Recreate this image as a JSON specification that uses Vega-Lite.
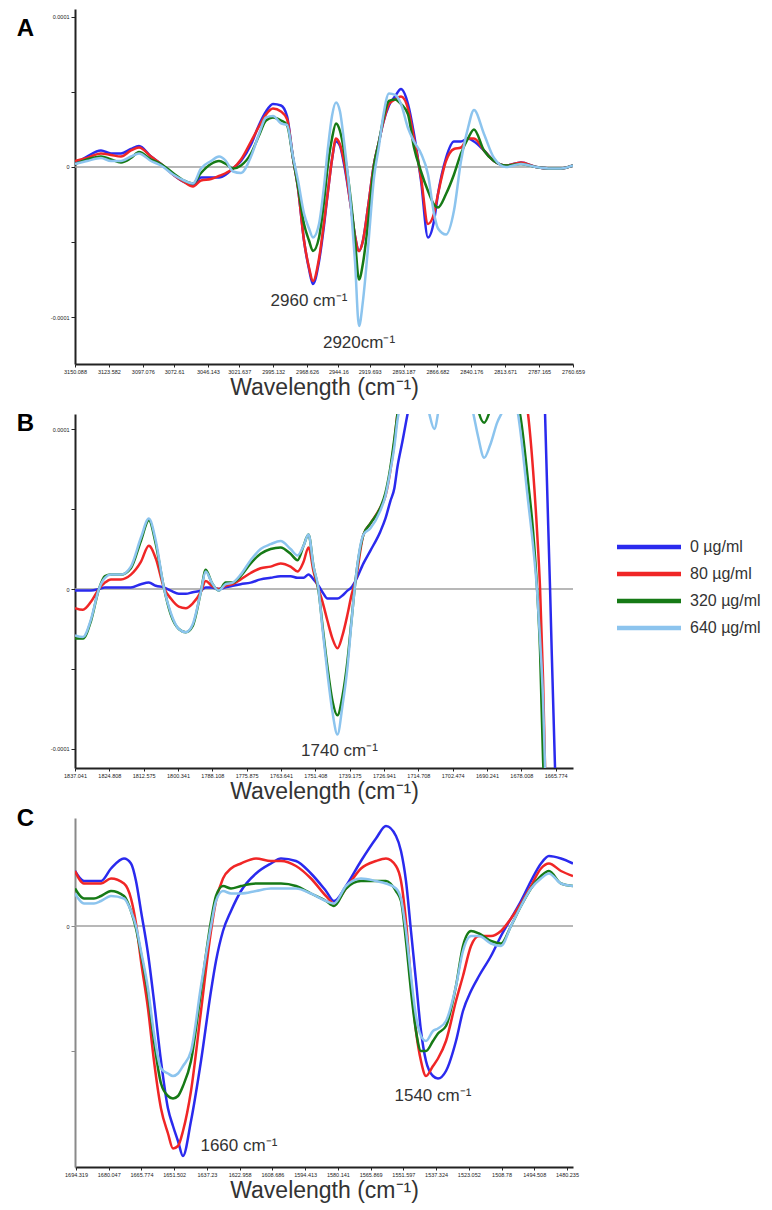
{
"$schema":"https://vega.github.io/schema/vega-lite/v6.json",
"background":"white",
"padding":{"left":16,"top":9,"right":0,"bottom":0},
"autosize":{"type":"pad"},
"bounds":"flush",
"spacing":50,
"config":{"view":{"stroke":null},"font":"Liberation Sans",
 "axisX":{"grid":false,"domainColor":"#222","domainWidth":2,"tickColor":"#222","tickSize":3,"labelFontSize":5.5,"labelColor":"#222","labelPadding":2,"labelFlush":false,"labelOverlap":false,"labelBound":false,"titleFontSize":23,"titleFontWeight":"normal","titleColor":"#333","titlePadding":2},
 "axisY":{"grid":false,"domainColor":"#222","domainWidth":2,"tickColor":"#222","tickSize":4,"labelFontSize":5.5,"labelColor":"#222","labelPadding":2,"labelOverlap":false,"titleAngle":0,"titleX":-50,"titleAlign":"center","titleBaseline":"middle","titleFontSize":24,"titleFontWeight":"bold","titleColor":"#000"}},
"resolve":{"scale":{"x":"independent","y":"independent","color":"shared"}},
"datasets":{
"A":[
{"x":3150.09,"s":0,"y":2e-6},{"x":3150.09,"s":80,"y":4e-6},{"x":3150.09,"s":320,"y":2e-6},{"x":3150.09,"s":640,"y":2e-6},
{"x":3140.7,"s":0,"y":7e-6},{"x":3140.7,"s":80,"y":6e-6},{"x":3140.7,"s":320,"y":5e-6},{"x":3140.7,"s":640,"y":4e-6},
{"x":3129.76,"s":0,"y":11e-6},{"x":3129.76,"s":80,"y":9e-6},{"x":3129.76,"s":320,"y":7e-6},{"x":3129.76,"s":640,"y":6e-6},
{"x":3121.94,"s":0,"y":9e-6},{"x":3121.94,"s":80,"y":8e-6},{"x":3121.94,"s":320,"y":5e-6},{"x":3121.94,"s":640,"y":4e-6},
{"x":3114.12,"s":0,"y":9e-6},{"x":3114.12,"s":80,"y":7e-6},{"x":3114.12,"s":320,"y":3e-6},{"x":3114.12,"s":640,"y":4e-6},
{"x":3106.3,"s":0,"y":12e-6},{"x":3106.3,"s":80,"y":11e-6},{"x":3106.3,"s":320,"y":6e-6},{"x":3106.3,"s":640,"y":7e-6},
{"x":3100.04,"s":0,"y":14e-6},{"x":3100.04,"s":80,"y":13e-6},{"x":3100.04,"s":320,"y":10e-6},{"x":3100.04,"s":640,"y":9e-6},
{"x":3090.66,"s":0,"y":7e-6},{"x":3090.66,"s":80,"y":7e-6},{"x":3090.66,"s":320,"y":5e-6},{"x":3090.66,"s":640,"y":4e-6},
{"x":3082.84,"s":0,"y":2e-6},{"x":3082.84,"s":80,"y":2e-6},{"x":3082.84,"s":320,"y":2e-6},{"x":3082.84,"s":640,"y":1e-6},
{"x":3073.45,"s":0,"y":-5e-6},{"x":3073.45,"s":80,"y":-5e-6},{"x":3073.45,"s":320,"y":-4e-6},{"x":3073.45,"s":640,"y":-5e-6},
{"x":3064.85,"s":0,"y":-10e-6},{"x":3064.85,"s":80,"y":-10e-6},{"x":3064.85,"s":320,"y":-9e-6},{"x":3064.85,"s":640,"y":-9e-6},
{"x":3057.81,"s":0,"y":-12e-6},{"x":3057.81,"s":80,"y":-13e-6},{"x":3057.81,"s":320,"y":-11e-6},{"x":3057.81,"s":640,"y":-11e-6},
{"x":3051.56,"s":0,"y":-7e-6},{"x":3051.56,"s":80,"y":-9e-6},{"x":3051.56,"s":320,"y":-4e-6},{"x":3051.56,"s":640,"y":-1e-6},
{"x":3043.74,"s":0,"y":-7e-6},{"x":3043.74,"s":80,"y":-8e-6},{"x":3043.74,"s":320,"y":2e-6},{"x":3043.74,"s":640,"y":4e-6},
{"x":3037.48,"s":0,"y":-7e-6},{"x":3037.48,"s":80,"y":-6e-6},{"x":3037.48,"s":320,"y":4e-6},{"x":3037.48,"s":640,"y":7e-6},
{"x":3032.01,"s":0,"y":-5e-6},{"x":3032.01,"s":80,"y":-4e-6},{"x":3032.01,"s":320,"y":2e-6},{"x":3032.01,"s":640,"y":4e-6},
{"x":3026.54,"s":0,"y":-1e-6},{"x":3026.54,"s":80,"y":-1e-6},{"x":3026.54,"s":320,"y":-1e-6},{"x":3026.54,"s":640,"y":-3e-6},
{"x":3020.28,"s":0,"y":4e-6},{"x":3020.28,"s":80,"y":5e-6},{"x":3020.28,"s":320,"y":1e-6},{"x":3020.28,"s":640,"y":-4e-6},
{"x":3012.46,"s":0,"y":15e-6},{"x":3012.46,"s":80,"y":17e-6},{"x":3012.46,"s":320,"y":9e-6},{"x":3012.46,"s":640,"y":7e-6},
{"x":3006.2,"s":0,"y":28e-6},{"x":3006.2,"s":80,"y":27e-6},{"x":3006.2,"s":320,"y":21e-6},{"x":3006.2,"s":640,"y":22e-6},
{"x":3000.73,"s":0,"y":37e-6},{"x":3000.73,"s":80,"y":35e-6},{"x":3000.73,"s":320,"y":31e-6},{"x":3000.73,"s":640,"y":33e-6},
{"x":2995.26,"s":0,"y":42e-6},{"x":2995.26,"s":80,"y":39e-6},{"x":2995.26,"s":320,"y":33e-6},{"x":2995.26,"s":640,"y":34e-6},
{"x":2989.0,"s":0,"y":41e-6},{"x":2989.0,"s":80,"y":37e-6},{"x":2989.0,"s":320,"y":31e-6},{"x":2989.0,"s":640,"y":29e-6},
{"x":2984.31,"s":0,"y":34e-6},{"x":2984.31,"s":80,"y":32e-6},{"x":2984.31,"s":320,"y":28e-6},{"x":2984.31,"s":640,"y":28e-6},
{"x":2979.62,"s":0,"y":6e-6},{"x":2979.62,"s":80,"y":6e-6},{"x":2979.62,"s":320,"y":6e-6},{"x":2979.62,"s":640,"y":7e-6},
{"x":2975.71,"s":0,"y":-14e-6},{"x":2975.71,"s":80,"y":-14e-6},{"x":2975.71,"s":320,"y":-13e-6},{"x":2975.71,"s":640,"y":-9e-6},
{"x":2971.01,"s":0,"y":-49e-6},{"x":2971.01,"s":80,"y":-49e-6},{"x":2971.01,"s":320,"y":-38e-6},{"x":2971.01,"s":640,"y":-31e-6},
{"x":2967.1,"s":0,"y":-68e-6},{"x":2967.1,"s":80,"y":-67e-6},{"x":2967.1,"s":320,"y":-49e-6},{"x":2967.1,"s":640,"y":-41e-6},
{"x":2963.98,"s":0,"y":-78e-6},{"x":2963.98,"s":80,"y":-76e-6},{"x":2963.98,"s":320,"y":-56e-6},{"x":2963.98,"s":640,"y":-47e-6},
{"x":2959.28,"s":0,"y":-63e-6},{"x":2959.28,"s":80,"y":-61e-6},{"x":2959.28,"s":320,"y":-47e-6},{"x":2959.28,"s":640,"y":-38e-6},
{"x":2955.37,"s":0,"y":-39e-6},{"x":2955.37,"s":80,"y":-37e-6},{"x":2955.37,"s":320,"y":-23e-6},{"x":2955.37,"s":640,"y":-13e-6},
{"x":2952.25,"s":0,"y":-16e-6},{"x":2952.25,"s":80,"y":-16e-6},{"x":2952.25,"s":320,"y":2e-6},{"x":2952.25,"s":640,"y":13e-6},
{"x":2949.12,"s":0,"y":5e-6},{"x":2949.12,"s":80,"y":5e-6},{"x":2949.12,"s":320,"y":19e-6},{"x":2949.12,"s":640,"y":34e-6},
{"x":2945.99,"s":0,"y":17e-6},{"x":2945.99,"s":80,"y":19e-6},{"x":2945.99,"s":320,"y":29e-6},{"x":2945.99,"s":640,"y":43e-6},
{"x":2942.86,"s":0,"y":14e-6},{"x":2942.86,"s":80,"y":15e-6},{"x":2942.86,"s":320,"y":24e-6},{"x":2942.86,"s":640,"y":37e-6},
{"x":2939.73,"s":0,"y":2e-6},{"x":2939.73,"s":80,"y":4e-6},{"x":2939.73,"s":320,"y":11e-6},{"x":2939.73,"s":640,"y":17e-6},
{"x":2934.26,"s":0,"y":-27e-6},{"x":2934.26,"s":80,"y":-27e-6},{"x":2934.26,"s":320,"y":-23e-6},{"x":2934.26,"s":640,"y":-27e-6},
{"x":2931.13,"s":0,"y":-46e-6},{"x":2931.13,"s":80,"y":-46e-6},{"x":2931.13,"s":320,"y":-49e-6},{"x":2931.13,"s":640,"y":-63e-6},
{"x":2928.0,"s":0,"y":-56e-6},{"x":2928.0,"s":80,"y":-56e-6},{"x":2928.0,"s":320,"y":-75e-6},{"x":2928.0,"s":640,"y":-106e-6},
{"x":2924.88,"s":0,"y":-49e-6},{"x":2924.88,"s":80,"y":-49e-6},{"x":2924.88,"s":320,"y":-64e-6},{"x":2924.88,"s":640,"y":-89e-6},
{"x":2920.97,"s":0,"y":-27e-6},{"x":2920.97,"s":80,"y":-27e-6},{"x":2920.97,"s":320,"y":-38e-6},{"x":2920.97,"s":640,"y":-54e-6},
{"x":2916.27,"s":0,"y":2e-6},{"x":2916.27,"s":80,"y":2e-6},{"x":2916.27,"s":320,"y":1e-6},{"x":2916.27,"s":640,"y":-7e-6},
{"x":2912.37,"s":0,"y":17e-6},{"x":2912.37,"s":80,"y":17e-6},{"x":2912.37,"s":320,"y":17e-6},{"x":2912.37,"s":640,"y":14e-6},
{"x":2909.24,"s":0,"y":29e-6},{"x":2909.24,"s":80,"y":29e-6},{"x":2909.24,"s":320,"y":31e-6},{"x":2909.24,"s":640,"y":33e-6},
{"x":2904.55,"s":0,"y":41e-6},{"x":2904.55,"s":80,"y":42e-6},{"x":2904.55,"s":320,"y":44e-6},{"x":2904.55,"s":640,"y":49e-6},
{"x":2899.85,"s":0,"y":47e-6},{"x":2899.85,"s":80,"y":45e-6},{"x":2899.85,"s":320,"y":45e-6},{"x":2899.85,"s":640,"y":48e-6},
{"x":2895.16,"s":0,"y":52e-6},{"x":2895.16,"s":80,"y":47e-6},{"x":2895.16,"s":320,"y":42e-6},{"x":2895.16,"s":640,"y":42e-6},
{"x":2889.69,"s":0,"y":42e-6},{"x":2889.69,"s":80,"y":39e-6},{"x":2889.69,"s":320,"y":35e-6},{"x":2889.69,"s":640,"y":26e-6},
{"x":2885.0,"s":0,"y":22e-6},{"x":2885.0,"s":80,"y":19e-6},{"x":2885.0,"s":320,"y":13e-6},{"x":2885.0,"s":640,"y":17e-6},
{"x":2879.52,"s":0,"y":-9e-6},{"x":2879.52,"s":80,"y":-7e-6},{"x":2879.52,"s":320,"y":-3e-6},{"x":2879.52,"s":640,"y":9e-6},
{"x":2874.05,"s":0,"y":-47e-6},{"x":2874.05,"s":80,"y":-38e-6},{"x":2874.05,"s":320,"y":-16e-6},{"x":2874.05,"s":640,"y":-5e-6},
{"x":2869.36,"s":0,"y":-36e-6},{"x":2869.36,"s":80,"y":-31e-6},{"x":2869.36,"s":320,"y":-25e-6},{"x":2869.36,"s":640,"y":-31e-6},
{"x":2866.23,"s":0,"y":-18e-6},{"x":2866.23,"s":80,"y":-18e-6},{"x":2866.23,"s":320,"y":-27e-6},{"x":2866.23,"s":640,"y":-41e-6},
{"x":2859.97,"s":0,"y":6e-6},{"x":2859.97,"s":80,"y":4e-6},{"x":2859.97,"s":320,"y":-18e-6},{"x":2859.97,"s":640,"y":-45e-6},
{"x":2853.72,"s":0,"y":17e-6},{"x":2853.72,"s":80,"y":12e-6},{"x":2853.72,"s":320,"y":-5e-6},{"x":2853.72,"s":640,"y":-29e-6},
{"x":2848.24,"s":0,"y":17e-6},{"x":2848.24,"s":80,"y":13e-6},{"x":2848.24,"s":320,"y":9e-6},{"x":2848.24,"s":640,"y":4e-6},
{"x":2842.77,"s":0,"y":19e-6},{"x":2842.77,"s":80,"y":19e-6},{"x":2842.77,"s":320,"y":19e-6},{"x":2842.77,"s":640,"y":26e-6},
{"x":2838.08,"s":0,"y":17e-6},{"x":2838.08,"s":80,"y":19e-6},{"x":2838.08,"s":320,"y":25e-6},{"x":2838.08,"s":640,"y":38e-6},
{"x":2830.26,"s":0,"y":11e-6},{"x":2830.26,"s":80,"y":11e-6},{"x":2830.26,"s":320,"y":11e-6},{"x":2830.26,"s":640,"y":22e-6},
{"x":2822.44,"s":0,"y":4e-6},{"x":2822.44,"s":80,"y":4e-6},{"x":2822.44,"s":320,"y":4e-6},{"x":2822.44,"s":640,"y":6e-6},
{"x":2813.05,"s":0,"y":1e-6},{"x":2813.05,"s":80,"y":1e-6},{"x":2813.05,"s":320,"y":1e-6},{"x":2813.05,"s":640,"y":0},
{"x":2801.32,"s":0,"y":3e-6},{"x":2801.32,"s":80,"y":3e-6},{"x":2801.32,"s":320,"y":2e-6},{"x":2801.32,"s":640,"y":2e-6},
{"x":2789.59,"s":0,"y":0},{"x":2789.59,"s":80,"y":0},{"x":2789.59,"s":320,"y":0},{"x":2789.59,"s":640,"y":0},
{"x":2777.86,"s":0,"y":-1e-6},{"x":2777.86,"s":80,"y":-1e-6},{"x":2777.86,"s":320,"y":-1e-6},{"x":2777.86,"s":640,"y":-1e-6},
{"x":2770.04,"s":0,"y":-1e-6},{"x":2770.04,"s":80,"y":-1e-6},{"x":2770.04,"s":320,"y":-1e-6},{"x":2770.04,"s":640,"y":-1e-6},
{"x":2760.66,"s":0,"y":1e-6},{"x":2760.66,"s":80,"y":1e-6},{"x":2760.66,"s":320,"y":1e-6},{"x":2760.66,"s":640,"y":1e-6}
],
"B":[
{"x":1837.04,"s":0,"y":-1e-6},{"x":1837.04,"s":80,"y":-12e-6},{"x":1837.04,"s":320,"y":-31e-6},{"x":1837.04,"s":640,"y":-29e-6},
{"x":1834.2,"s":0,"y":-1e-6},{"x":1834.2,"s":80,"y":-13e-6},{"x":1834.2,"s":320,"y":-31e-6},{"x":1834.2,"s":640,"y":-30e-6},
{"x":1831.35,"s":0,"y":-1e-6},{"x":1831.35,"s":80,"y":-8e-6},{"x":1831.35,"s":320,"y":-20e-6},{"x":1831.35,"s":640,"y":-19e-6},
{"x":1828.51,"s":0,"y":0},{"x":1828.51,"s":80,"y":0},{"x":1828.51,"s":320,"y":0},{"x":1828.51,"s":640,"y":0},
{"x":1826.37,"s":0,"y":1e-6},{"x":1826.37,"s":80,"y":4e-6},{"x":1826.37,"s":320,"y":8e-6},{"x":1826.37,"s":640,"y":7e-6},
{"x":1824.24,"s":0,"y":1e-6},{"x":1824.24,"s":80,"y":6e-6},{"x":1824.24,"s":320,"y":9e-6},{"x":1824.24,"s":640,"y":9e-6},
{"x":1820.68,"s":0,"y":1e-6},{"x":1820.68,"s":80,"y":6e-6},{"x":1820.68,"s":320,"y":9e-6},{"x":1820.68,"s":640,"y":9e-6},
{"x":1817.13,"s":0,"y":1e-6},{"x":1817.13,"s":80,"y":9e-6},{"x":1817.13,"s":320,"y":13e-6},{"x":1817.13,"s":640,"y":14e-6},
{"x":1813.57,"s":0,"y":3e-6},{"x":1813.57,"s":80,"y":17e-6},{"x":1813.57,"s":320,"y":30e-6},{"x":1813.57,"s":640,"y":32e-6},
{"x":1810.73,"s":0,"y":4e-6},{"x":1810.73,"s":80,"y":27e-6},{"x":1810.73,"s":320,"y":43e-6},{"x":1810.73,"s":640,"y":44e-6},
{"x":1808.24,"s":0,"y":2e-6},{"x":1808.24,"s":80,"y":19e-6},{"x":1808.24,"s":320,"y":28e-6},{"x":1808.24,"s":640,"y":30e-6},
{"x":1805.39,"s":0,"y":1e-6},{"x":1805.39,"s":80,"y":1e-6},{"x":1805.39,"s":320,"y":1e-6},{"x":1805.39,"s":640,"y":1e-6},
{"x":1802.9,"s":0,"y":-1e-6},{"x":1802.9,"s":80,"y":-6e-6},{"x":1802.9,"s":320,"y":-16e-6},{"x":1802.9,"s":640,"y":-15e-6},
{"x":1800.06,"s":0,"y":-3e-6},{"x":1800.06,"s":80,"y":-11e-6},{"x":1800.06,"s":320,"y":-25e-6},{"x":1800.06,"s":640,"y":-25e-6},
{"x":1797.57,"s":0,"y":-3e-6},{"x":1797.57,"s":80,"y":-12e-6},{"x":1797.57,"s":320,"y":-27e-6},{"x":1797.57,"s":640,"y":-27e-6},
{"x":1795.08,"s":0,"y":-2e-6},{"x":1795.08,"s":80,"y":-9e-6},{"x":1795.08,"s":320,"y":-23e-6},{"x":1795.08,"s":640,"y":-22e-6},
{"x":1792.23,"s":0,"y":-1e-6},{"x":1792.23,"s":80,"y":-2e-6},{"x":1792.23,"s":320,"y":-2e-6},{"x":1792.23,"s":640,"y":-2e-6},
{"x":1790.46,"s":0,"y":1e-6},{"x":1790.46,"s":80,"y":5e-6},{"x":1790.46,"s":320,"y":12e-6},{"x":1790.46,"s":640,"y":11e-6},
{"x":1788.32,"s":0,"y":1e-6},{"x":1788.32,"s":80,"y":2e-6},{"x":1788.32,"s":320,"y":4e-6},{"x":1788.32,"s":640,"y":4e-6},
{"x":1785.83,"s":0,"y":0},{"x":1785.83,"s":80,"y":0},{"x":1785.83,"s":320,"y":-1e-6},{"x":1785.83,"s":640,"y":-1e-6},
{"x":1783.34,"s":0,"y":1e-6},{"x":1783.34,"s":80,"y":2e-6},{"x":1783.34,"s":320,"y":4e-6},{"x":1783.34,"s":640,"y":3e-6},
{"x":1780.86,"s":0,"y":2e-6},{"x":1780.86,"s":80,"y":3e-6},{"x":1780.86,"s":320,"y":4e-6},{"x":1780.86,"s":640,"y":4e-6},
{"x":1778.01,"s":0,"y":3e-6},{"x":1778.01,"s":80,"y":6e-6},{"x":1778.01,"s":320,"y":8e-6},{"x":1778.01,"s":640,"y":9e-6},
{"x":1774.45,"s":0,"y":4e-6},{"x":1774.45,"s":80,"y":10e-6},{"x":1774.45,"s":320,"y":16e-6},{"x":1774.45,"s":640,"y":18e-6},
{"x":1770.9,"s":0,"y":6e-6},{"x":1770.9,"s":80,"y":13e-6},{"x":1770.9,"s":320,"y":22e-6},{"x":1770.9,"s":640,"y":25e-6},
{"x":1767.34,"s":0,"y":7e-6},{"x":1767.34,"s":80,"y":14e-6},{"x":1767.34,"s":320,"y":25e-6},{"x":1767.34,"s":640,"y":28e-6},
{"x":1763.79,"s":0,"y":8e-6},{"x":1763.79,"s":80,"y":16e-6},{"x":1763.79,"s":320,"y":26e-6},{"x":1763.79,"s":640,"y":30e-6},
{"x":1760.23,"s":0,"y":8e-6},{"x":1760.23,"s":80,"y":14e-6},{"x":1760.23,"s":320,"y":22e-6},{"x":1760.23,"s":640,"y":25e-6},
{"x":1757.74,"s":0,"y":7e-6},{"x":1757.74,"s":80,"y":11e-6},{"x":1757.74,"s":320,"y":18e-6},{"x":1757.74,"s":640,"y":21e-6},
{"x":1755.61,"s":0,"y":7e-6},{"x":1755.61,"s":80,"y":17e-6},{"x":1755.61,"s":320,"y":27e-6},{"x":1755.61,"s":640,"y":27e-6},
{"x":1753.83,"s":0,"y":9e-6},{"x":1753.83,"s":80,"y":26e-6},{"x":1753.83,"s":320,"y":34e-6},{"x":1753.83,"s":640,"y":34e-6},
{"x":1752.05,"s":0,"y":6e-6},{"x":1752.05,"s":80,"y":11e-6},{"x":1752.05,"s":320,"y":14e-6},{"x":1752.05,"s":640,"y":14e-6},
{"x":1750.27,"s":0,"y":2e-6},{"x":1750.27,"s":80,"y":0},{"x":1750.27,"s":320,"y":-1e-6},{"x":1750.27,"s":640,"y":0},
{"x":1748.85,"s":0,"y":-2e-6},{"x":1748.85,"s":80,"y":-8e-6},{"x":1748.85,"s":320,"y":-23e-6},{"x":1748.85,"s":640,"y":-25e-6},
{"x":1747.07,"s":0,"y":-6e-6},{"x":1747.07,"s":80,"y":-20e-6},{"x":1747.07,"s":320,"y":-49e-6},{"x":1747.07,"s":640,"y":-53e-6},
{"x":1745.3,"s":0,"y":-6e-6},{"x":1745.3,"s":80,"y":-31e-6},{"x":1745.3,"s":320,"y":-70e-6},{"x":1745.3,"s":640,"y":-77e-6},
{"x":1743.52,"s":0,"y":-6e-6},{"x":1743.52,"s":80,"y":-37e-6},{"x":1743.52,"s":320,"y":-79e-6},{"x":1743.52,"s":640,"y":-91e-6},
{"x":1741.74,"s":0,"y":-4e-6},{"x":1741.74,"s":80,"y":-29e-6},{"x":1741.74,"s":320,"y":-67e-6},{"x":1741.74,"s":640,"y":-73e-6},
{"x":1739.96,"s":0,"y":-1e-6},{"x":1739.96,"s":80,"y":-16e-6},{"x":1739.96,"s":320,"y":-45e-6},{"x":1739.96,"s":640,"y":-49e-6},
{"x":1738.54,"s":0,"y":1e-6},{"x":1738.54,"s":80,"y":-4e-6},{"x":1738.54,"s":320,"y":-20e-6},{"x":1738.54,"s":640,"y":-21e-6},
{"x":1737.12,"s":0,"y":5e-6},{"x":1737.12,"s":80,"y":5e-6},{"x":1737.12,"s":320,"y":5e-6},{"x":1737.12,"s":640,"y":5e-6},
{"x":1734.27,"s":0,"y":16e-6},{"x":1734.27,"s":80,"y":34e-6},{"x":1734.27,"s":320,"y":34e-6},{"x":1734.27,"s":640,"y":34e-6},
{"x":1731.78,"s":0,"y":24e-6},{"x":1731.78,"s":80,"y":41e-6},{"x":1731.78,"s":320,"y":41e-6},{"x":1731.78,"s":640,"y":38e-6},
{"x":1728.23,"s":0,"y":36e-6},{"x":1728.23,"s":80,"y":51e-6},{"x":1728.23,"s":320,"y":51e-6},{"x":1728.23,"s":640,"y":49e-6},
{"x":1726.45,"s":0,"y":44e-6},{"x":1726.45,"s":80,"y":58e-6},{"x":1726.45,"s":320,"y":60e-6},{"x":1726.45,"s":640,"y":58e-6},
{"x":1724.67,"s":0,"y":55e-6},{"x":1724.67,"s":80,"y":74e-6},{"x":1724.67,"s":320,"y":76e-6},{"x":1724.67,"s":640,"y":74e-6},
{"x":1723.25,"s":0,"y":63e-6},{"x":1723.25,"s":80,"y":92e-6},{"x":1723.25,"s":320,"y":94e-6},{"x":1723.25,"s":640,"y":89e-6},
{"x":1722.18,"s":0,"y":76e-6},{"x":1722.18,"s":80,"y":109e-6},{"x":1722.18,"s":320,"y":109e-6},{"x":1722.18,"s":640,"y":105e-6},
{"x":1720.4,"s":0,"y":92e-6},{"x":1720.4,"s":80,"y":130e-6},{"x":1720.4,"s":320,"y":135e-6},{"x":1720.4,"s":640,"y":120e-6},
{"x":1717.56,"s":0,"y":118e-6},{"x":1717.56,"s":80,"y":150e-6},{"x":1717.56,"s":320,"y":155e-6},{"x":1717.56,"s":640,"y":140e-6},
{"x":1714.0,"s":0,"y":140e-6},{"x":1714.0,"s":80,"y":160e-6},{"x":1714.0,"s":320,"y":165e-6},{"x":1714.0,"s":640,"y":130e-6},
{"x":1711.16,"s":0,"y":150e-6},{"x":1711.16,"s":80,"y":165e-6},{"x":1711.16,"s":320,"y":165e-6},{"x":1711.16,"s":640,"y":112e-6},
{"x":1709.02,"s":0,"y":155e-6},{"x":1709.02,"s":80,"y":165e-6},{"x":1709.02,"s":320,"y":165e-6},{"x":1709.02,"s":640,"y":100e-6},
{"x":1706.89,"s":0,"y":158e-6},{"x":1706.89,"s":80,"y":165e-6},{"x":1706.89,"s":320,"y":165e-6},{"x":1706.89,"s":640,"y":118e-6},
{"x":1703.33,"s":0,"y":160e-6},{"x":1703.33,"s":80,"y":165e-6},{"x":1703.33,"s":320,"y":165e-6},{"x":1703.33,"s":640,"y":135e-6},
{"x":1698.0,"s":0,"y":160e-6},{"x":1698.0,"s":80,"y":160e-6},{"x":1698.0,"s":320,"y":150e-6},{"x":1698.0,"s":640,"y":130e-6},
{"x":1695.16,"s":0,"y":160e-6},{"x":1695.16,"s":80,"y":160e-6},{"x":1695.16,"s":320,"y":130e-6},{"x":1695.16,"s":640,"y":110e-6},
{"x":1693.38,"s":0,"y":160e-6},{"x":1693.38,"s":80,"y":160e-6},{"x":1693.38,"s":320,"y":112e-6},{"x":1693.38,"s":640,"y":95e-6},
{"x":1691.24,"s":0,"y":160e-6},{"x":1691.24,"s":80,"y":160e-6},{"x":1691.24,"s":320,"y":104e-6},{"x":1691.24,"s":640,"y":82e-6},
{"x":1689.11,"s":0,"y":160e-6},{"x":1689.11,"s":80,"y":160e-6},{"x":1689.11,"s":320,"y":112e-6},{"x":1689.11,"s":640,"y":90e-6},
{"x":1686.62,"s":0,"y":160e-6},{"x":1686.62,"s":80,"y":160e-6},{"x":1686.62,"s":320,"y":130e-6},{"x":1686.62,"s":640,"y":104e-6},
{"x":1684.49,"s":0,"y":160e-6},{"x":1684.49,"s":80,"y":160e-6},{"x":1684.49,"s":320,"y":140e-6},{"x":1684.49,"s":640,"y":112e-6},
{"x":1682.0,"s":0,"y":160e-6},{"x":1682.0,"s":80,"y":155e-6},{"x":1682.0,"s":320,"y":130e-6},{"x":1682.0,"s":640,"y":125e-6},
{"x":1679.15,"s":0,"y":160e-6},{"x":1679.15,"s":80,"y":140e-6},{"x":1679.15,"s":320,"y":115e-6},{"x":1679.15,"s":640,"y":109e-6},
{"x":1678.44,"s":0,"y":160e-6},{"x":1678.44,"s":80,"y":130e-6},{"x":1678.44,"s":320,"y":109e-6},{"x":1678.44,"s":640,"y":100e-6},
{"x":1675.6,"s":0,"y":160e-6},{"x":1675.6,"s":80,"y":109e-6},{"x":1675.6,"s":320,"y":67e-6},{"x":1675.6,"s":640,"y":55e-6},
{"x":1673.82,"s":0,"y":160e-6},{"x":1673.82,"s":80,"y":74e-6},{"x":1673.82,"s":320,"y":36e-6},{"x":1673.82,"s":640,"y":27e-6},
{"x":1672.4,"s":0,"y":160e-6},{"x":1672.4,"s":80,"y":36e-6},{"x":1672.4,"s":320,"y":0},{"x":1672.4,"s":640,"y":-1e-6},
{"x":1671.33,"s":0,"y":160e-6},{"x":1671.33,"s":80,"y":0},{"x":1671.33,"s":320,"y":-39e-6},{"x":1671.33,"s":640,"y":-32e-6},
{"x":1670.26,"s":0,"y":160e-6},{"x":1670.26,"s":80,"y":-57e-6},{"x":1670.26,"s":320,"y":-107e-6},{"x":1670.26,"s":640,"y":-70e-6},
{"x":1669.55,"s":0,"y":109e-6},{"x":1669.55,"s":80,"y":-112e-6},{"x":1669.55,"s":320,"y":-132e-6},{"x":1669.55,"s":640,"y":-112e-6},
{"x":1667.77,"s":0,"y":0},{"x":1667.77,"s":80,"y":-170e-6},{"x":1667.77,"s":320,"y":-180e-6},{"x":1667.77,"s":640,"y":-160e-6},
{"x":1666.0,"s":0,"y":-112e-6},{"x":1666.0,"s":80,"y":-210e-6},{"x":1666.0,"s":320,"y":-220e-6},{"x":1666.0,"s":640,"y":-200e-6},
{"x":1663.51,"s":0,"y":-180e-6},{"x":1663.51,"s":80,"y":-240e-6},{"x":1663.51,"s":320,"y":-250e-6},{"x":1663.51,"s":640,"y":-240e-6},
{"x":1659.6,"s":0,"y":-240e-6},{"x":1659.6,"s":80,"y":-280e-6},{"x":1659.6,"s":320,"y":-290e-6},{"x":1659.6,"s":640,"y":-280e-6}
],
"C":[
{"x":1694.76,"s":0,"y":22e-6},{"x":1694.76,"s":80,"y":22e-6},{"x":1694.76,"s":320,"y":15e-6},{"x":1694.76,"s":640,"y":13e-6},
{"x":1690.83,"s":0,"y":18e-6},{"x":1690.83,"s":80,"y":17e-6},{"x":1690.83,"s":320,"y":11e-6},{"x":1690.83,"s":640,"y":9e-6},
{"x":1686.47,"s":0,"y":18e-6},{"x":1686.47,"s":80,"y":17e-6},{"x":1686.47,"s":320,"y":11e-6},{"x":1686.47,"s":640,"y":9e-6},
{"x":1683.42,"s":0,"y":18e-6},{"x":1683.42,"s":80,"y":17e-6},{"x":1683.42,"s":320,"y":12e-6},{"x":1683.42,"s":640,"y":10e-6},
{"x":1679.06,"s":0,"y":23e-6},{"x":1679.06,"s":80,"y":19e-6},{"x":1679.06,"s":320,"y":14e-6},{"x":1679.06,"s":640,"y":12e-6},
{"x":1673.39,"s":0,"y":27e-6},{"x":1673.39,"s":80,"y":17e-6},{"x":1673.39,"s":320,"y":12e-6},{"x":1673.39,"s":640,"y":11e-6},
{"x":1670.34,"s":0,"y":25e-6},{"x":1670.34,"s":80,"y":11e-6},{"x":1670.34,"s":320,"y":6e-6},{"x":1670.34,"s":640,"y":6e-6},
{"x":1668.16,"s":0,"y":18e-6},{"x":1668.16,"s":80,"y":1e-6},{"x":1668.16,"s":320,"y":-1e-6},{"x":1668.16,"s":640,"y":0},
{"x":1665.98,"s":0,"y":6e-6},{"x":1665.98,"s":80,"y":-14e-6},{"x":1665.98,"s":320,"y":-11e-6},{"x":1665.98,"s":640,"y":-10e-6},
{"x":1662.93,"s":0,"y":-11e-6},{"x":1662.93,"s":80,"y":-33e-6},{"x":1662.93,"s":320,"y":-27e-6},{"x":1662.93,"s":640,"y":-25e-6},
{"x":1660.31,"s":0,"y":-30e-6},{"x":1660.31,"s":80,"y":-54e-6},{"x":1660.31,"s":320,"y":-46e-6},{"x":1660.31,"s":640,"y":-43e-6},
{"x":1657.26,"s":0,"y":-54e-6},{"x":1657.26,"s":80,"y":-73e-6},{"x":1657.26,"s":320,"y":-63e-6},{"x":1657.26,"s":640,"y":-57e-6},
{"x":1654.21,"s":0,"y":-73e-6},{"x":1654.21,"s":80,"y":-83e-6},{"x":1654.21,"s":320,"y":-68e-6},{"x":1654.21,"s":640,"y":-59e-6},
{"x":1652.03,"s":0,"y":-80e-6},{"x":1652.03,"s":80,"y":-89e-6},{"x":1652.03,"s":320,"y":-69e-6},{"x":1652.03,"s":640,"y":-60e-6},
{"x":1649.85,"s":0,"y":-86e-6},{"x":1649.85,"s":80,"y":-88e-6},{"x":1649.85,"s":320,"y":-68e-6},{"x":1649.85,"s":640,"y":-59e-6},
{"x":1647.67,"s":0,"y":-92e-6},{"x":1647.67,"s":80,"y":-82e-6},{"x":1647.67,"s":320,"y":-64e-6},{"x":1647.67,"s":640,"y":-56e-6},
{"x":1644.18,"s":0,"y":-78e-6},{"x":1644.18,"s":80,"y":-66e-6},{"x":1644.18,"s":320,"y":-54e-6},{"x":1644.18,"s":640,"y":-50e-6},
{"x":1639.82,"s":0,"y":-54e-6},{"x":1639.82,"s":80,"y":-34e-6},{"x":1639.82,"s":320,"y":-26e-6},{"x":1639.82,"s":640,"y":-24e-6},
{"x":1635.46,"s":0,"y":-26e-6},{"x":1635.46,"s":80,"y":-2e-6},{"x":1635.46,"s":320,"y":2e-6},{"x":1635.46,"s":640,"y":0},
{"x":1633.28,"s":0,"y":-14e-6},{"x":1633.28,"s":80,"y":10e-6},{"x":1633.28,"s":320,"y":12e-6},{"x":1633.28,"s":640,"y":10e-6},
{"x":1630.23,"s":0,"y":-2e-6},{"x":1630.23,"s":80,"y":19e-6},{"x":1630.23,"s":320,"y":16e-6},{"x":1630.23,"s":640,"y":14e-6},
{"x":1626.74,"s":0,"y":6e-6},{"x":1626.74,"s":80,"y":23e-6},{"x":1626.74,"s":320,"y":15e-6},{"x":1626.74,"s":640,"y":13e-6},
{"x":1622.38,"s":0,"y":14e-6},{"x":1622.38,"s":80,"y":25e-6},{"x":1622.38,"s":320,"y":16e-6},{"x":1622.38,"s":640,"y":13e-6},
{"x":1615.84,"s":0,"y":21e-6},{"x":1615.84,"s":80,"y":27e-6},{"x":1615.84,"s":320,"y":17e-6},{"x":1615.84,"s":640,"y":14e-6},
{"x":1609.3,"s":0,"y":25e-6},{"x":1609.3,"s":80,"y":26e-6},{"x":1609.3,"s":320,"y":17e-6},{"x":1609.3,"s":640,"y":15e-6},
{"x":1604.94,"s":0,"y":27e-6},{"x":1604.94,"s":80,"y":26e-6},{"x":1604.94,"s":320,"y":17e-6},{"x":1604.94,"s":640,"y":15e-6},
{"x":1598.4,"s":0,"y":26e-6},{"x":1598.4,"s":80,"y":24e-6},{"x":1598.4,"s":320,"y":16e-6},{"x":1598.4,"s":640,"y":15e-6},
{"x":1591.86,"s":0,"y":21e-6},{"x":1591.86,"s":80,"y":19e-6},{"x":1591.86,"s":320,"y":13e-6},{"x":1591.86,"s":640,"y":13e-6},
{"x":1585.32,"s":0,"y":14e-6},{"x":1585.32,"s":80,"y":12e-6},{"x":1585.32,"s":320,"y":10e-6},{"x":1585.32,"s":640,"y":10e-6},
{"x":1581.83,"s":0,"y":10e-6},{"x":1581.83,"s":80,"y":9e-6},{"x":1581.83,"s":320,"y":8e-6},{"x":1581.83,"s":640,"y":9e-6},
{"x":1576.6,"s":0,"y":16e-6},{"x":1576.6,"s":80,"y":15e-6},{"x":1576.6,"s":320,"y":15e-6},{"x":1576.6,"s":640,"y":16e-6},
{"x":1570.06,"s":0,"y":26e-6},{"x":1570.06,"s":80,"y":23e-6},{"x":1570.06,"s":320,"y":18e-6},{"x":1570.06,"s":640,"y":19e-6},
{"x":1563.52,"s":0,"y":35e-6},{"x":1563.52,"s":80,"y":26e-6},{"x":1563.52,"s":320,"y":18e-6},{"x":1563.52,"s":640,"y":18e-6},
{"x":1559.16,"s":0,"y":40e-6},{"x":1559.16,"s":80,"y":27e-6},{"x":1559.16,"s":320,"y":18e-6},{"x":1559.16,"s":640,"y":17e-6},
{"x":1554.8,"s":0,"y":36e-6},{"x":1554.8,"s":80,"y":24e-6},{"x":1554.8,"s":320,"y":14e-6},{"x":1554.8,"s":640,"y":15e-6},
{"x":1552.62,"s":0,"y":30e-6},{"x":1552.62,"s":80,"y":18e-6},{"x":1552.62,"s":320,"y":10e-6},{"x":1552.62,"s":640,"y":11e-6},
{"x":1550.44,"s":0,"y":18e-6},{"x":1550.44,"s":80,"y":2e-6},{"x":1550.44,"s":320,"y":-6e-6},{"x":1550.44,"s":640,"y":-2e-6},
{"x":1548.26,"s":0,"y":-2e-6},{"x":1548.26,"s":80,"y":-22e-6},{"x":1548.26,"s":320,"y":-26e-6},{"x":1548.26,"s":640,"y":-20e-6},
{"x":1546.08,"s":0,"y":-22e-6},{"x":1546.08,"s":80,"y":-42e-6},{"x":1546.08,"s":320,"y":-42e-6},{"x":1546.08,"s":640,"y":-36e-6},
{"x":1543.9,"s":0,"y":-42e-6},{"x":1543.9,"s":80,"y":-54e-6},{"x":1543.9,"s":320,"y":-50e-6},{"x":1543.9,"s":640,"y":-44e-6},
{"x":1541.72,"s":0,"y":-54e-6},{"x":1541.72,"s":80,"y":-60e-6},{"x":1541.72,"s":320,"y":-50e-6},{"x":1541.72,"s":640,"y":-46e-6},
{"x":1538.67,"s":0,"y":-60e-6},{"x":1538.67,"s":80,"y":-56e-6},{"x":1538.67,"s":320,"y":-46e-6},{"x":1538.67,"s":640,"y":-42e-6},
{"x":1536.49,"s":0,"y":-61e-6},{"x":1536.49,"s":80,"y":-53e-6},{"x":1536.49,"s":320,"y":-43e-6},{"x":1536.49,"s":640,"y":-41e-6},
{"x":1533.0,"s":0,"y":-58e-6},{"x":1533.0,"s":80,"y":-46e-6},{"x":1533.0,"s":320,"y":-40e-6},{"x":1533.0,"s":640,"y":-38e-6},
{"x":1528.64,"s":0,"y":-46e-6},{"x":1528.64,"s":80,"y":-30e-6},{"x":1528.64,"s":320,"y":-24e-6},{"x":1528.64,"s":640,"y":-24e-6},
{"x":1525.59,"s":0,"y":-34e-6},{"x":1525.59,"s":80,"y":-20e-6},{"x":1525.59,"s":320,"y":-8e-6},{"x":1525.59,"s":640,"y":-10e-6},
{"x":1522.1,"s":0,"y":-26e-6},{"x":1522.1,"s":80,"y":-8e-6},{"x":1522.1,"s":320,"y":-2e-6},{"x":1522.1,"s":640,"y":-4e-6},
{"x":1518.61,"s":0,"y":-20e-6},{"x":1518.61,"s":80,"y":-4e-6},{"x":1518.61,"s":320,"y":-3e-6},{"x":1518.61,"s":640,"y":-4e-6},
{"x":1513.38,"s":0,"y":-12e-6},{"x":1513.38,"s":80,"y":-4e-6},{"x":1513.38,"s":320,"y":-6e-6},{"x":1513.38,"s":640,"y":-7e-6},
{"x":1509.02,"s":0,"y":-4e-6},{"x":1509.02,"s":80,"y":-2e-6},{"x":1509.02,"s":320,"y":-7e-6},{"x":1509.02,"s":640,"y":-8e-6},
{"x":1504.66,"s":0,"y":3e-6},{"x":1504.66,"s":80,"y":3e-6},{"x":1504.66,"s":320,"y":0},{"x":1504.66,"s":640,"y":0},
{"x":1500.3,"s":0,"y":10e-6},{"x":1500.3,"s":80,"y":9e-6},{"x":1500.3,"s":320,"y":8e-6},{"x":1500.3,"s":640,"y":8e-6},
{"x":1495.94,"s":0,"y":18e-6},{"x":1495.94,"s":80,"y":16e-6},{"x":1495.94,"s":320,"y":15e-6},{"x":1495.94,"s":640,"y":15e-6},
{"x":1491.58,"s":0,"y":25e-6},{"x":1491.58,"s":80,"y":23e-6},{"x":1491.58,"s":320,"y":20e-6},{"x":1491.58,"s":640,"y":19e-6},
{"x":1488.1,"s":0,"y":28e-6},{"x":1488.1,"s":80,"y":25e-6},{"x":1488.1,"s":320,"y":22e-6},{"x":1488.1,"s":640,"y":21e-6},
{"x":1482.86,"s":0,"y":27e-6},{"x":1482.86,"s":80,"y":22e-6},{"x":1482.86,"s":320,"y":17e-6},{"x":1482.86,"s":640,"y":17e-6},
{"x":1477.62,"s":0,"y":25e-6},{"x":1477.62,"s":80,"y":20e-6},{"x":1477.62,"s":320,"y":16e-6},{"x":1477.62,"s":640,"y":16e-6}
]},
"vconcat":[
{"width":498,"height":355,
 "encoding":{
  "x":{"field":"x","type":"quantitative","scale":{"domain":[2760.659,3150.088],"reverse":true,"nice":false,"zero":false},
       "axis":{"title":"Wavelength (cm⁻¹)","values":[3150.088,3123.582,3097.076,3072.61,3046.143,3021.637,2995.132,2968.626,2944.16,2919.693,2893.187,2866.682,2840.176,2813.671,2787.165,2760.659],"format":".3~f"}},
  "y":{"field":"y","type":"quantitative","scale":{"domain":[-131.3e-6,105.3e-6],"nice":false,"zero":false},
       "axis":{"title":"A","titleY":19,"values":[-1e-4,-5e-5,0,5e-5,1e-4],"labelExpr":"datum.value == 0 ? '0' : (abs(abs(datum.value) - 0.0001) < 1e-9 ? (datum.value > 0 ? '0.0001' : '-0.0001') : '')"}}},
 "layer":[
  {"data":{"values":[{"x":3150.088,"y":0},{"x":2760.659,"y":0}]},"mark":{"type":"line","color":"#a0a0a0","strokeWidth":1.5},"encoding":{}},
  {"data":{"name":"A"},"mark":{"type":"line","interpolate":"monotone","strokeWidth":2.5,"clip":true},
   "encoding":{"color":{"field":"s","type":"nominal","scale":{"domain":[0,80,320,640],"range":["#2a2aee","#f02626","#167a16","#8cc4ee"]},
     "legend":{"title":null,"orient":"none","legendX":566,"legendY":530,"labelExpr":"datum.label + ' µg/ml'","labelFontSize":16,"labelColor":"#333","symbolType":"M-6.4,0H6.4","symbolSize":100,"symbolStrokeWidth":4.5,"labelOffset":33,"rowPadding":9,"padding":0}}}},
  {"data":{"values":[{"x":2967.1,"y":-89e-6,"t":"2960 cm⁻¹"},{"x":2928.0,"y":-117e-6,"t":"2920cm⁻¹"}]},
   "mark":{"type":"text","fontSize":17,"color":"#333","align":"center","baseline":"middle"},"encoding":{"text":{"field":"t"}}}
 ]},
{"width":498,"height":354,
 "encoding":{
  "x":{"field":"x","type":"quantitative","scale":{"domain":[1659.6,1837.041],"reverse":true,"nice":false,"zero":false},
       "axis":{"title":"Wavelength (cm⁻¹)","values":[1837.041,1824.808,1812.575,1800.341,1788.108,1775.875,1763.641,1751.408,1739.175,1726.941,1714.708,1702.474,1690.241,1678.008,1665.774],"format":".3~f"}},
  "y":{"field":"y","type":"quantitative","scale":{"domain":[-111.9e-6,109.4e-6],"nice":false,"zero":false},
       "axis":{"title":"B","titleY":9,"values":[-1e-4,-5e-5,0,5e-5,1e-4],"labelExpr":"datum.value == 0 ? '0' : (abs(abs(datum.value) - 0.0001) < 1e-9 ? (datum.value > 0 ? '0.0001' : '-0.0001') : '')"}}},
 "layer":[
  {"data":{"values":[{"x":1837.041,"y":0},{"x":1659.6,"y":0}]},"mark":{"type":"line","color":"#a0a0a0","strokeWidth":1.5},"encoding":{}},
  {"data":{"name":"B"},"mark":{"type":"line","interpolate":"monotone","strokeWidth":2.5,"clip":true},
   "encoding":{"color":{"field":"s","type":"nominal","scale":{"domain":[0,80,320,640],"range":["#2a2aee","#f02626","#167a16","#8cc4ee"]},
     "legend":{"title":null,"orient":"none","legendX":566,"legendY":530,"labelExpr":"datum.label + ' µg/ml'","labelFontSize":16,"labelColor":"#333","symbolType":"M-6.4,0H6.4","symbolSize":100,"symbolStrokeWidth":4.5,"labelOffset":33,"rowPadding":9,"padding":0}}}},
  {"data":{"values":[{"x":1742.8,"y":-101e-6,"t":"1740 cm⁻¹"}]},
   "mark":{"type":"text","fontSize":17,"color":"#333","align":"center","baseline":"middle"},"encoding":{"text":{"field":"t"}}}
 ]},
{"width":498,"height":349,
 "encoding":{
  "x":{"field":"x","type":"quantitative","scale":{"domain":[1477.62,1694.755],"reverse":true,"nice":false,"zero":false},
       "axis":{"title":"Wavelength (cm⁻¹)","values":[1694.319,1680.047,1665.774,1651.502,1637.23,1622.958,1608.686,1594.413,1580.141,1565.869,1551.597,1537.324,1523.052,1508.78,1494.508,1480.235],"format":".3~f"}},
  "y":{"field":"y","type":"quantitative","scale":{"domain":[-96.4e-6,43.2e-6],"nice":false,"zero":false},
       "axis":{"title":"C","titleY":0,"domainColor":"#8a8a8a","tickColor":"#8a8a8a","values":[-5e-5,0],"labelExpr":"datum.value == 0 ? '0' : ''"}}},
 "layer":[
  {"data":{"values":[{"x":1694.755,"y":0},{"x":1477.62,"y":0}]},"mark":{"type":"line","color":"#a0a0a0","strokeWidth":1.5},"encoding":{}},
  {"data":{"name":"C"},"mark":{"type":"line","interpolate":"monotone","strokeWidth":2.5,"clip":true},
   "encoding":{"color":{"field":"s","type":"nominal","scale":{"domain":[0,80,320,640],"range":["#2a2aee","#f02626","#167a16","#8cc4ee"]},
     "legend":{"title":null,"orient":"none","legendX":566,"legendY":530,"labelExpr":"datum.label + ' µg/ml'","labelFontSize":16,"labelColor":"#333","symbolType":"M-6.4,0H6.4","symbolSize":100,"symbolStrokeWidth":4.5,"labelOffset":33,"rowPadding":9,"padding":0}}}},
  {"data":{"values":[{"x":1623.3,"y":-88e-6,"t":"1660 cm⁻¹"},{"x":1538.7,"y":-68e-6,"t":"1540 cm⁻¹"}]},
   "mark":{"type":"text","fontSize":17,"color":"#333","align":"center","baseline":"middle"},"encoding":{"text":{"field":"t"}}}
 ]}
]}
